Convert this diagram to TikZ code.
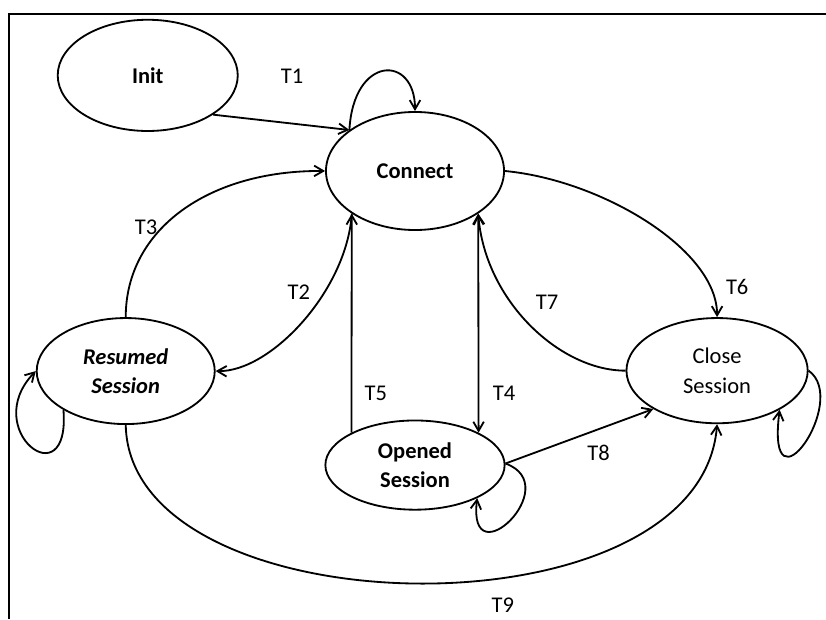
\documentclass[tikz,border=0pt]{standalone}
\usepackage{fontspec}
\setmainfont{Carlito}
\usetikzlibrary{arrows.meta, positioning, shapes.geometric}
\newcommand{\diagfont}{\fontsize{16}{21}\selectfont}
\tikzset{>={Straight Barb[length=6.5pt,width=7.5pt]}}

\begin{document}
\begin{tikzpicture}[x=0.025cm, y=-0.025cm, on grid, line width=1.3pt,
    phase/.style={draw, ellipse, inner sep=0pt, align=center},
    tlabel/.style={inner sep=1pt, font=\diagfont}]
  \useasboundingbox (0,0) rectangle (826,619);
  \draw[line width=1.5pt] (826,14) -- (9,14) -- (9,619);

  \node[phase, minimum width=4.45cm, minimum height=2.95cm, font=\diagfont\bfseries] (conn) at (415,171) {Connect};
  \node[phase, above left=2.39cm and 6.68cm of conn, minimum width=4.5cm, minimum height=2.78cm, font=\diagfont\bfseries] (init) {Init};
  \node[phase, below left=5cm and 7.23cm of conn, minimum width=4.45cm, minimum height=2.65cm, font=\diagfont\bfseries\itshape] (res) {Resumed\\Session};
  \node[phase, below=7.35cm of conn, minimum width=4.48cm, minimum height=2.23cm, font=\diagfont\bfseries] (opn) {Opened\\Session};
  \node[phase, below right=4.99cm and 7.55cm of conn, minimum width=4.53cm, minimum height=2.63cm, font=\diagfont] (cls) {Close\\Session};

  % transitions
  \draw[->] (init.-31) -- (conn.148) node[tlabel, pos=0.58, above=0.95cm] (t1) {T1};
  \draw[->] (conn.148) .. controls +(4,-75) and +(0,-57) .. (conn.90);
  \draw[->] (conn.-146) .. controls +(-5,77) and +(55,1) .. (res.0) node[tlabel, pos=0.35, left=0.3cm] (t2) {T2};
  \draw[->] (res.90) .. controls +(0,-88) and +(-116,-1) .. (conn.180) node[tlabel, pos=0.4, left=2pt] (t3) {T3};
  \draw[<->] (conn.-34) -- (opn.27) node[tlabel, pos=0.82, right=0.3cm] (t4) {T4};
  \draw[->] (opn.153) -- (conn.-146) node[tlabel, pos=0.18, right=0.27cm] (t5) {T5};
  \draw[->] (conn.0) .. controls +(96,9) and +(0,-68) .. (cls.90) node[tlabel, pos=0.85, right=0.35cm] (t6) {T6};
  \draw[->] (cls.180) .. controls +(-66,0) and +(7,87) .. (conn.-34) node[tlabel, pos=0.55, above right=0.1cm and 0.3cm] (t7) {T7};
  \draw[->] (opn.1) -- (cls.-149) node[tlabel, pos=0.63, below=0.35cm] (t8) {T8};
  \draw[->] (res.-90) .. controls +(4,206) and +(-17,217) .. (cls.-90) node[tlabel, pos=0.6, below=0.45cm] (t9) {T9};

  % self loops
  \draw[->] (res.-148) .. controls +(7,90) and +(-57,59) .. (res.180);
  \draw[->] (opn.1) .. controls +(61,22) and +(-10,82) .. (opn.-28);
  \draw[->] (cls.0) .. controls +(42,30) and +(-14,111) .. (cls.-32);
\end{tikzpicture}
\end{document}
